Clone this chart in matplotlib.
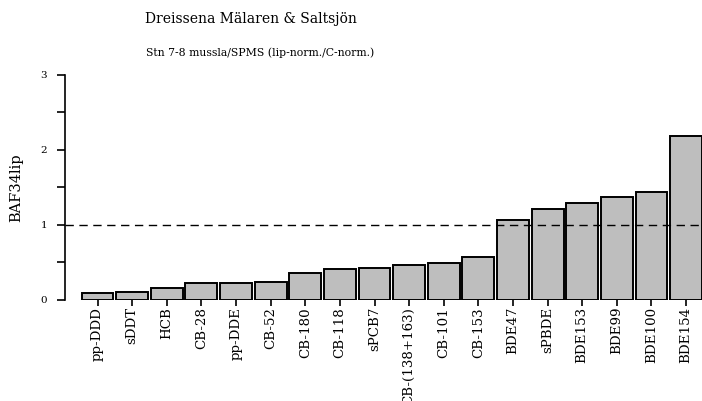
import matplotlib
matplotlib.use("Agg")
import matplotlib.pyplot as plt
from matplotlib.ticker import MultipleLocator

compounds = ["pp-DDD", "sDDT", "HCB", "CB-28", "pp-DDE", "CB-52", "CB-180",
             "CB-118", "sPCB7", "CB-(138+163)", "CB-101", "CB-153", "BDE47",
             "sPBDE", "BDE153", "BDE99", "BDE100", "BDE154"]
baf = [0.09, 0.11, 0.16, 0.23, 0.23, 0.24, 0.36, 0.41, 0.43, 0.46, 0.49,
       0.57, 1.065, 1.21, 1.29, 1.37, 1.44, 2.18]

plt.rcParams['font.family'] = ['DejaVu Serif']

fig = plt.figure(figsize=(7.02, 4.01), dpi=100)
ax = fig.add_axes([0.0926, 0.2519, 0.9074, 0.5618])

x = range(len(compounds))
ax.bar(x, baf, width=0.92, color='#bebebe', edgecolor='black', linewidth=1.4)
ax.axhline(1, color='black', linestyle=(0, (6, 4)), linewidth=1)

ax.set_xlim(-0.94, len(compounds) - 0.54)
ax.set_ylim(0, 3)
ax.set_xticks(list(x))
ax.set_xticklabels(compounds, rotation=90, fontsize=9.6)
ax.yaxis.set_major_locator(MultipleLocator(1))
ax.yaxis.set_minor_locator(MultipleLocator(0.5))
ax.tick_params(axis='y', which='both', length=6, width=1.2, labelsize=7.5, pad=7)
ax.tick_params(axis='x', length=4, width=1.2, pad=1)

for s in ['top', 'right', 'bottom']:
    ax.spines[s].set_visible(False)
ax.spines['left'].set_linewidth(1.2)

ax.set_ylabel('BAF34lip', fontsize=10.5, labelpad=12)

fig.text(0.207, 0.952, 'Dreissena Mälaren & Saltsjön', fontsize=10, va='center')
fig.text(0.208, 0.868, 'Stn 7-8 mussla/SPMS (lip-norm./C-norm.)', fontsize=7.8, va='center')

fig.savefig('out.png', dpi=100)
